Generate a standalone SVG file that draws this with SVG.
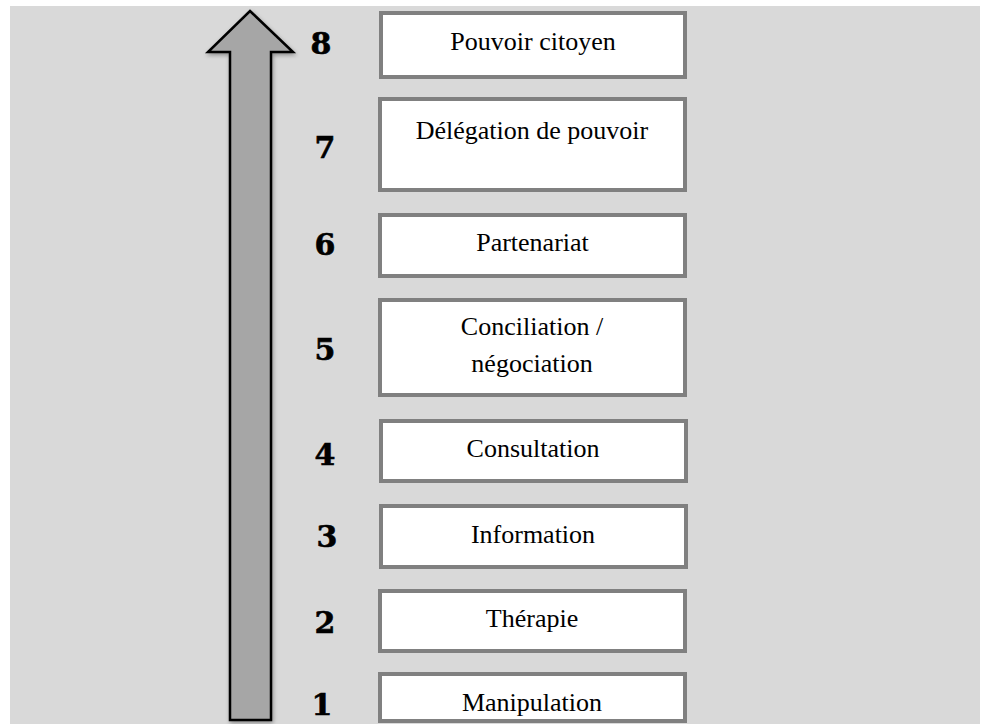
<svg xmlns="http://www.w3.org/2000/svg" width="981" height="724" viewBox="0 0 981 724">
  <style>
    .box { fill: #ffffff; stroke: #808080; stroke-width: 4; }
    .lbl { font-family: "Liberation Serif", "Times New Roman", serif; font-size: 26px; fill: #000; text-anchor: middle; }
    .num { font-family: "DejaVu Serif", "Liberation Serif", serif; font-weight: bold; font-size: 30px; fill: #000; stroke: #000; stroke-width: 0.6; text-anchor: middle; }
  </style>
  <defs>
    <filter id="shadow" x="-20%" y="-5%" width="140%" height="110%">
      <feGaussianBlur in="SourceAlpha" stdDeviation="2"/>
      <feOffset dx="1" dy="2" result="b"/>
      <feComponentTransfer><feFuncA type="linear" slope="0.35"/></feComponentTransfer>
      <feMerge><feMergeNode/><feMergeNode in="SourceGraphic"/></feMerge>
    </filter>
  </defs>
  <rect x="10" y="6" width="970" height="718" fill="#d9d9d9"/>

  <g id="connectors">
    <polygon points="250,11 293,52 271,52 271,720 230,720 230,52 208,52" fill="#a6a6a6" stroke="#000" stroke-width="2.5" stroke-linejoin="miter" filter="url(#shadow)"/>
  </g>

  <g id="level8">
    <text class="num" x="321" y="54">8</text>
    <rect class="box" x="381" y="13" width="304" height="64"/>
    <text class="lbl" x="533" y="50">Pouvoir citoyen</text>
  </g>
  <g id="level7">
    <text class="num" x="325" y="158">7</text>
    <rect class="box" x="380" y="99" width="305" height="91"/>
    <text class="lbl" x="532" y="139">Délégation de pouvoir</text>
  </g>
  <g id="level6">
    <text class="num" x="325" y="255">6</text>
    <rect class="box" x="380" y="215" width="305" height="61"/>
    <text class="lbl" x="532.5" y="251">Partenariat</text>
  </g>
  <g id="level5">
    <text class="num" x="325" y="360">5</text>
    <rect class="box" x="380" y="300" width="305" height="95"/>
    <text class="lbl" x="532" y="335">Conciliation /</text>
    <text class="lbl" x="532" y="372">négociation</text>
  </g>
  <g id="level4">
    <text class="num" x="325" y="465">4</text>
    <rect class="box" x="381" y="421" width="305" height="60"/>
    <text class="lbl" x="533" y="457">Consultation</text>
  </g>
  <g id="level3">
    <text class="num" x="327" y="547">3</text>
    <rect class="box" x="381" y="506" width="305" height="61"/>
    <text class="lbl" x="533" y="543">Information</text>
  </g>
  <g id="level2">
    <text class="num" x="325" y="633">2</text>
    <rect class="box" x="380" y="591" width="305" height="60"/>
    <text class="lbl" x="532" y="627">Thérapie</text>
  </g>
  <g id="level1">
    <text class="num" x="322" y="715">1</text>
    <rect class="box" x="380" y="674" width="305" height="47"/>
    <text class="lbl" x="532" y="711">Manipulation</text>
  </g>
</svg>
